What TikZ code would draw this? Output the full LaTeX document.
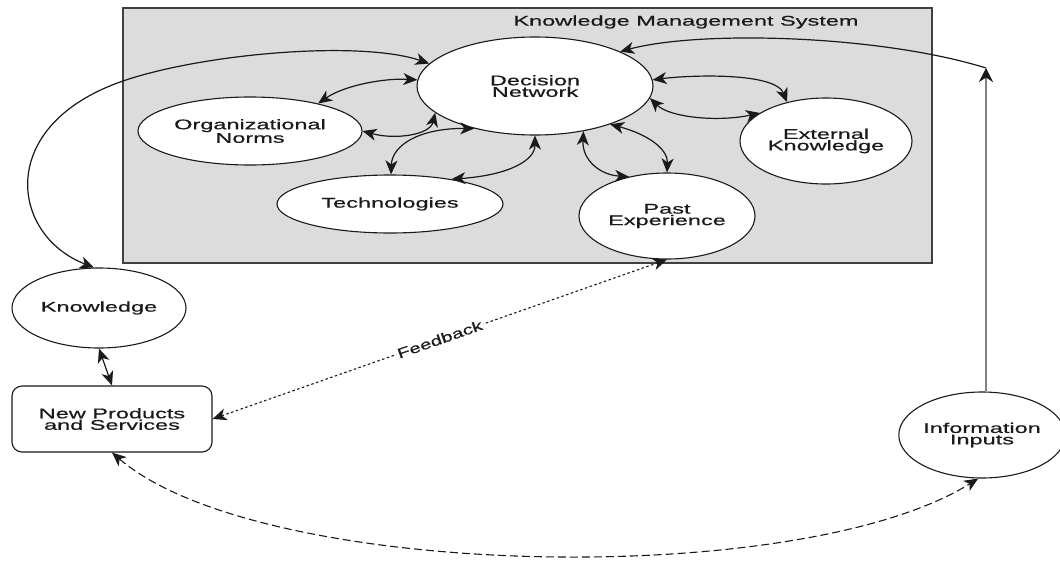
\documentclass[tikz,border=0pt]{standalone}
\usepackage{fontspec}
\setmainfont{Liberation Sans}[FakeStretch=1.68,FakeBold=0.6]
\newfontfamily\fbfont{Liberation Sans}[FakeStretch=1.45,FakeBold=0.6]
\usetikzlibrary{shapes.geometric,arrows.meta}
\definecolor{kmsgray}{HTML}{DCDCDC}
\definecolor{ink}{HTML}{1A1A1A}
\tikzset{
  tp/.tip={Stealth[length=14pt,width=12pt,inset=4pt]}
}
\begin{document}
\begin{tikzpicture}[x=1pt,y=-1pt,
  every node/.style={font=\fontsize{14}{11.5}\selectfont, text=ink, align=center},
  oval/.style={ellipse, draw=ink, line width=1.1pt, fill=white, inner sep=0pt},
  conn/.style={draw=ink, line width=1.2pt},
  both/.style={conn, tp-tp},
  fbline/.style={draw=ink, line width=1.1pt, dash pattern=on 2.5pt off 2.5pt},
  loopline/.style={draw=ink, line width=1.1pt, dash pattern=on 8pt off 4pt}]
\useasboundingbox (0,0) rectangle (1060,560);
\fill[white] (0,0) rectangle (1060,560);
% system box
\draw[fill=kmsgray, draw=black!75, line width=1.2pt] (123,8) rectangle (932,263);
\node (title) at (686,22) {Knowledge Management System};
% nodes
\node[oval, minimum width=236pt, minimum height=98pt] (DN) at (535,86) {Decision\\Network};
\node[oval, minimum width=224pt, minimum height=68pt] (ON) at (250,131) {Organizational\\Norms};
\node[oval, minimum width=226pt, minimum height=58pt] (TE) at (390,204) {Technologies};
\node[oval, minimum width=176pt, minimum height=86pt] (PE) at (667,216) {Past\\Experience};
\node[oval, minimum width=172pt, minimum height=86pt] (EK) at (826,141) {External\\Knowledge};
\node[oval, minimum width=174pt, minimum height=80pt] (KN) at (99,308) {Knowledge};
\node[draw=ink, line width=1.1pt, rounded corners=10pt, minimum width=200pt, minimum height=66pt, fill=white] (NP) at (112,419) {New Products\\and Services};
\node[oval, minimum width=156pt, minimum height=86pt] (II) at (982,435) {Information\\Inputs};
\coordinate (top) at (986,68);
\coordinate (exitL) at (123,81);
% inner connectors
\draw[both] (ON.22) .. controls (345,85) and (385,78) .. (DN.177);
\draw[both] (ON.east) .. controls (395,140) and (430,135) .. (DN.195);
\draw[both] (DN.215) .. controls (420,128) and (392,145) .. (TE.88);
\draw[both] (TE.22) .. controls (510,175) and (535,160) .. (DN.south);
\draw[both] (DN.317) .. controls (582,160) and (600,175) .. (PE.134);
\draw[both] (DN.333) .. controls (650,135) and (668,150) .. (PE.north);
\draw[both] (DN.3) .. controls (690,75) and (775,72) .. (EK.135);
\draw[both] (DN.354) .. controls (670,118) and (720,122) .. (EK.157);
% outer connectors
\draw[both] (KN.97) .. controls (10,235) and (-5,125) .. (exitL) .. controls (203,53.5) and (360,40) .. (DN.168);
\draw[both] (KN.south) -- (NP.north);
\draw[draw=gray, line width=2.8pt, -{Stealth[length=14pt,width=14pt,inset=4.5pt,color=ink]}] (II.north -| top) -- (top);
\draw[conn, -tp] (top) .. controls (880,35) and (700,30) .. (DN.22);
\draw[fbline, tp-tp] (NP.east) -- node[sloped, fill=white, inner sep=1.5pt, font=\fbfont\fontsize{14}{11.5}\selectfont] {Feedback} (PE.south);
\draw[loopline, tp-tp] (NP.south) .. controls (260,580) and (800,590) .. (II.265);
\end{tikzpicture}
\end{document}
